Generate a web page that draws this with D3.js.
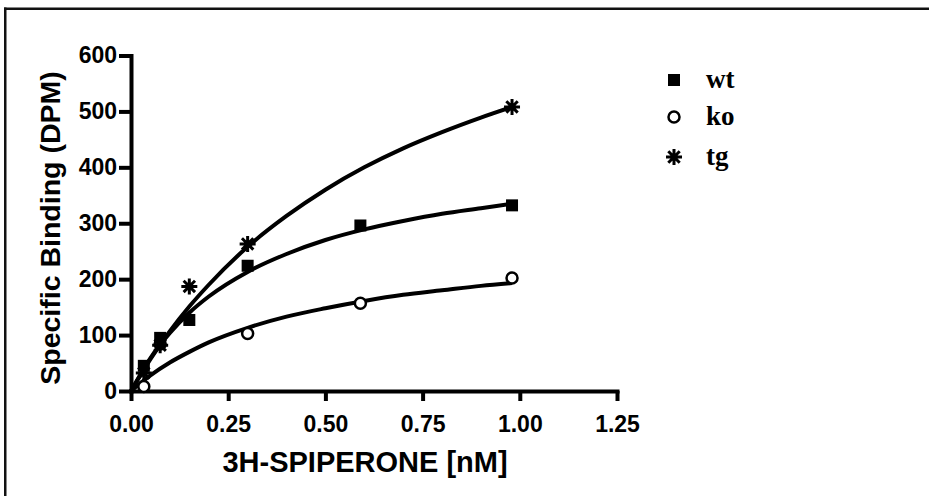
<!DOCTYPE html>
<html>
<head>
<meta charset="utf-8">
<script src="https://cdn.jsdelivr.net/npm/d3@7"></script>
<style>
  html, body { margin: 0; padding: 0; background: #fff; overflow: hidden; }
  svg { display: block; }
  .axis path, .axis line { stroke: #000; stroke-width: 4; }
  .axis text { font-family: "Liberation Sans", Arial, sans-serif; font-weight: bold; font-size: 23px; fill: #000; }
</style>
</head>
<body>
<div id="chart"></div>
<script>
// concentraciones (nM) y valores medidos
var conc = [0.033, 0.075, 0.15, 0.30, 0.59, 0.98];
var wt = [45, 95, 127, 224, 296, 332];
var ko = [8, 84, null, 103, 157, 202];
var tg = [32, 82, 187, 263, null, 508];

// curvas ajustadas
var curveX = [0, 0.05, 0.1, 0.15, 0.2, 0.3, 0.4, 0.5, 0.6, 0.7, 0.8, 0.9, 0.98];
var wtCurve = [0, 59, 104, 140, 169, 213, 245, 270, 289, 304, 317, 327, 335];
var koCurve = [0, 28, 51, 70, 87, 113, 133, 148, 161, 172, 180, 188, 193];
var tgCurve = [0, 57, 107, 151, 190, 258, 313, 360, 400, 434, 463, 489, 508];

var xTicks = [0, 0.25, 0.5, 0.75, 1.0, 1.25];
var yTicks = [0, 100, 200, 300, 400, 500, 600];
var legendLabels = ["wt", "ko", "tg"];

var width = 929, height = 496;

var svg = d3.select("#chart").append("svg")
    .attr("width", width)
    .attr("height", height);

// marco exterior (solo se ven el borde superior e izquierdo)
svg.append("rect")
    .attr("x", 4).attr("y", 7.5)
    .attr("width", width - 4).attr("height", 2.5)
    .attr("fill", "#111");
svg.append("rect")
    .attr("x", 4).attr("y", 7.5)
    .attr("width", 2.5).attr("height", height - 7.5)
    .attr("fill", "#111");

var x = d3.scaleLinear().domain([0, 1.25]).range([131, 617]);
var y = d3.scaleLinear().domain([0, 600]).range([391, 55.5]);

svg.append("g")
    .attr("class", "axis")
    .attr("transform", "translate(0," + y(0) + ")")
    .call(d3.axisBottom(x).tickValues(xTicks).tickFormat(d3.format(".2f")).tickSize(10).tickSizeOuter(0).tickPadding(15));

svg.append("g")
    .attr("class", "axis")
    .attr("transform", "translate(" + x(0) + ",0)")
    .call(d3.axisLeft(y).tickValues(yTicks).tickFormat(d3.format("d")).tickSize(12).tickSizeOuter(0).tickPadding(2));

svg.selectAll(".axis path").attr("stroke-linecap", "square");

// titulos de ejes
svg.append("text")
    .attr("x", 365).attr("y", 472)
    .attr("text-anchor", "middle")
    .style("font-family", "'Liberation Sans', Arial, sans-serif")
    .style("font-weight", "bold")
    .style("font-size", "29px")
    .text("3H-SPIPERONE [nM]");

svg.append("text")
    .attr("transform", "translate(60,228) rotate(-90)")
    .attr("text-anchor", "middle")
    .style("font-family", "'Liberation Sans', Arial, sans-serif")
    .style("font-weight", "bold")
    .style("font-size", "28.5px")
    .text("Specific Binding (DPM)");

// curvas
var line = d3.line()
    .x(d => x(d[0]))
    .y(d => y(d[1]))
    .curve(d3.curveMonotoneX);

[wtCurve, koCurve, tgCurve].forEach(function(c) {
    svg.append("path")
        .datum(curveX.map((v, i) => [v, c[i]]))
        .attr("d", line)
        .attr("fill", "none")
        .attr("stroke", "#000")
        .attr("stroke-width", 4);
});

// marcadores
var starPath = "M-8,0L8,0M0,-8L0,8M-5.7,-5.7L5.7,5.7M-5.7,5.7L5.7,-5.7";

function drawMarker(g, kind) {
    if (kind === "wt") {
        g.append("rect").attr("x", -6).attr("y", -6).attr("width", 12).attr("height", 12).attr("fill", "#000");
    } else if (kind === "ko") {
        g.append("circle").attr("r", 5.5).attr("fill", "#fff").attr("stroke", "#000").attr("stroke-width", 2.5);
    } else {
        g.append("path").attr("d", starPath).attr("stroke", "#000").attr("stroke-width", 3).attr("fill", "none");
    }
}

var seriesList = [["ko", ko], ["wt", wt], ["tg", tg]];
seriesList.forEach(function(s) {
    conc.forEach(function(c, i) {
        var v = s[1][i];
        if (v === null) return;
        var g = svg.append("g").attr("transform", "translate(" + x(c) + "," + y(v) + ")");
        drawMarker(g, s[0]);
    });
});

// leyenda
var legendY = [80, 117, 157];
legendLabels.forEach(function(lbl, i) {
    var g = svg.append("g").attr("transform", "translate(674," + legendY[i] + ")");
    drawMarker(g, lbl);
    svg.append("text")
        .attr("x", 706).attr("y", legendY[i] + 8)
        .style("font-family", "'Liberation Serif', 'Times New Roman', serif")
        .style("font-weight", "bold")
        .style("font-size", "27px")
        .text(lbl);
});
</script>
</body>
</html>
